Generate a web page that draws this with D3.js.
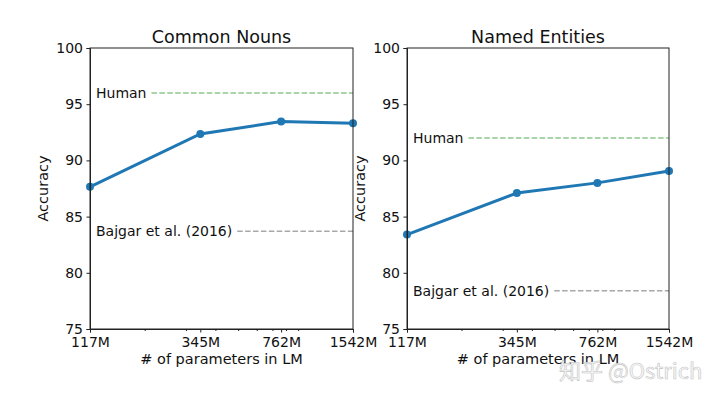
<!DOCTYPE html>
<html>
<head>
<meta charset="utf-8">
<script src="https://cdn.jsdelivr.net/npm/d3@7"></script>
<style>
  body { margin: 0; background: #fff; }
  svg { display: block; font-family: "DejaVu Sans", sans-serif; }
</style>
</head>
<body>
<svg width="720" height="398"></svg>
<script>
// data
const params = [117, 345, 762, 1542];
const tickLabels = ["117M", "345M", "762M", "1542M"];
const minorTicks = [200, 300, 400, 500, 600, 700, 800, 900];
const yTicks = [75, 80, 85, 90, 95, 100];

const titles = ["Common Nouns", "Named Entities"];
const accuracy = [
    [87.65, 92.35, 93.45, 93.3],
    [83.4, 87.1, 88.0, 89.05]
];
const humanScore = [96.0, 92.0];
const bajgarScore = [83.7, 78.4];

const svg = d3.select("svg");

// panels layout
const panels = [
    {x0: 90, x1: 353},
    {x0: 407, x1: 669}
];
const yTop = 48, yBottom = 329;

panels.forEach((p, i) => {
    const x = d3.scaleLog().domain([117, 1542]).range([p.x0, p.x1]);
    const y = d3.scaleLinear().domain([75, 100]).range([yBottom, yTop]);
    const g = svg.append("g");

    // reference lines (dashed) with labels
    const refs = [
        {label: "Human", value: humanScore[i], color: "#8cc98c"},
        {label: "Bajgar et al. (2016)", value: bajgarScore[i], color: "#a8a8a8"}
    ];
    refs.forEach(r => {
        const t = g.append("text")
            .attr("x", p.x0 + 6)
            .attr("y", y(r.value))
            .attr("dy", "0.35em")
            .attr("font-size", 14)
            .attr("fill", "#111")
            .text(r.label);
        const w = t.node().getComputedTextLength();
        g.append("line")
            .attr("x1", p.x0 + 6 + w + 5)
            .attr("x2", p.x1)
            .attr("y1", y(r.value))
            .attr("y2", y(r.value))
            .attr("stroke", r.color)
            .attr("stroke-width", 1.5)
            .attr("stroke-dasharray", "5.5,2.4");
    });

    // series line
    const line = d3.line()
        .x((d, j) => x(params[j]))
        .y(d => y(d));
    g.append("path")
        .datum(accuracy[i])
        .attr("d", line)
        .attr("fill", "none")
        .attr("stroke", "#1f77b4")
        .attr("stroke-width", 3);
    g.selectAll("circle")
        .data(accuracy[i])
        .enter()
        .append("circle")
        .attr("cx", (d, j) => x(params[j]))
        .attr("cy", d => y(d))
        .attr("r", 4)
        .attr("fill", "#1f77b4");

    // y axis
    const yAxis = d3.axisLeft(y).tickValues(yTicks).tickSize(3.5).tickPadding(3.5);
    const ya = g.append("g")
        .attr("transform", `translate(${p.x0},0)`)
        .call(yAxis);
    ya.selectAll("text").attr("font-size", 14).attr("fill", "#111").attr("font-family", "DejaVu Sans");

    // x axis: major
    const xAxis = d3.axisBottom(x).tickValues(params)
        .tickFormat((d, j) => tickLabels[j]).tickSize(3.5).tickPadding(5);
    const xa = g.append("g")
        .attr("transform", `translate(0,${yBottom})`)
        .call(xAxis);
    xa.selectAll("text").attr("font-size", 14).attr("fill", "#111").attr("font-family", "DejaVu Sans");

    // x axis: minor
    g.append("g")
        .attr("transform", `translate(0,${yBottom})`)
        .call(d3.axisBottom(x).tickValues(minorTicks).tickFormat("").tickSize(2))
        .call(a => a.select(".domain").remove())
        .selectAll("line").attr("stroke", "#222");

    [ya, xa].forEach(a => a.selectAll("line, path").attr("stroke", "#222"));

    // frame (top & right spines)
    g.append("rect")
        .attr("x", p.x0)
        .attr("y", yTop)
        .attr("width", p.x1 - p.x0)
        .attr("height", yBottom - yTop)
        .attr("fill", "none")
        .attr("stroke", "#222")
        .attr("stroke-width", 1);

    // title
    g.append("text")
        .attr("x", (p.x0 + p.x1) / 2)
        .attr("y", 43)
        .attr("text-anchor", "middle")
        .attr("font-size", 17.5)
        .attr("fill", "#111")
        .text(titles[i]);

    // axis labels
    g.append("text")
        .attr("x", (p.x0 + p.x1) / 2)
        .attr("y", 364)
        .attr("text-anchor", "middle")
        .attr("font-size", 14.5)
        .attr("fill", "#111")
        .text("# of parameters in LM");
    g.append("text")
        .attr("transform", `translate(${p.x0 - 42},${(yTop + yBottom) / 2}) rotate(-90)`)
        .attr("text-anchor", "middle")
        .attr("font-size", 14.5)
        .attr("fill", "#111")
        .text("Accuracy");
});

// watermark
svg.append("text")
    .attr("x", 559)
    .attr("y", 379)
    .attr("font-size", 22)
    .attr("font-family", "'Noto Sans CJK SC', 'DejaVu Sans', sans-serif")
    .attr("fill", "#fafafa")
    .attr("stroke", "#c4c4c4")
    .attr("stroke-width", 0.6)
    .text("知乎 @Ostrich");
</script>
</body>
</html>
